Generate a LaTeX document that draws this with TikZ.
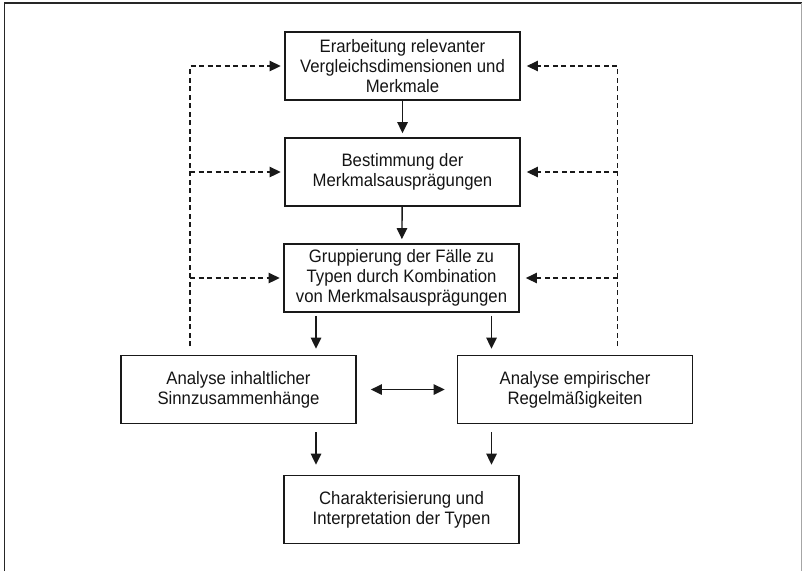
\documentclass[tikz,border=0pt]{standalone}
\usepackage{fontspec}
\setmainfont{Liberation Sans}[FakeStretch=0.93]
\usetikzlibrary{arrows.meta}
\begin{document}
\begin{tikzpicture}[x=1pt,y=-1pt,
  box/.style={draw=black!90, line width=1.8pt, minimum width=235pt, minimum height=68pt,
    align=center, inner sep=0pt, font=\fontsize{18}{20}\selectfont, text=black!92},
  tip/.style={-{Triangle[length=11pt,width=10.5pt]}},
  flow/.style={line width=1.4pt, draw=black!90, tip},
  both/.style={line width=1.4pt, draw=black!90,
    {Triangle[length=11pt,width=10.5pt]}-{Triangle[length=11pt,width=10.5pt]}},
  feedback/.style={line width=1.3pt, draw=black!90, dash pattern=on 5pt off 3.5pt, tip},
  ]
\useasboundingbox (0,0) rectangle (802,571);

% open frame
\draw[line width=1.8pt, black!85] (4.5,571) -- (4.5,3) -- (802,3);
\draw[line width=0.6pt, black!35] (801,3) -- (801,571);

% process steps
\node[box] (b1) at (402.5,66) {Erarbeitung relevanter\\Vergleichsdimensionen und\\Merkmale};
\node[box] (b2) at (402.5,172) {Bestimmung der\\Merkmalsausprägungen};
\node[box] (b3) at (401.5,278) {Gruppierung der Fälle zu\\Typen durch Kombination\\von Merkmalsausprägungen};
\node[box] (b4) at (238.5,389.5) {Analyse inhaltlicher\\Sinnzusammenhänge};
\node[box] (b5) at (575,389.5) {Analyse empirischer\\Regelmäßigkeiten};
\node[box] (b6) at (401.5,509.5) {Charakterisierung und\\Interpretation der Typen};

% columns of the split arrows and the feedback lines
\coordinate (xl) at (316,0);
\coordinate (xr) at (491.5,0);
\coordinate (lb) at (190,346);
\coordinate (rb) at (617.5,346);

% main flow
\draw[flow, shorten >=4pt] (b1) -- (b2);
\draw[flow, shorten >=4pt] (b2) -- (b3);
\draw[flow, shorten <=3pt, shorten >=6pt] (b3.south -| xl) -- (b4.north -| xl);
\draw[flow, shorten <=3pt, shorten >=6pt] (b3.south -| xr) -- (b5.north -| xr);
\draw[flow, shorten <=8pt, shorten >=10pt] (b4.south -| xl) -- (b6.north -| xl);
\draw[flow, shorten <=8pt, shorten >=10pt] (b5.south -| xr) -- (b6.north -| xr);
\draw[both, shorten <=14pt, shorten >=12pt] (b4.east) -- (b5.west);

% feedback loops
\draw[feedback, shorten >=3.5pt] (lb) |- (b1.west);
\draw[feedback, shorten >=3.5pt] (b2.west -| lb) -- (b2.west);
\draw[feedback, shorten >=3.5pt] (b3.west -| lb) -- (b3.west);
\draw[feedback, shorten >=6pt] (rb) |- (b1.east);
\draw[feedback, shorten >=6pt] (b2.east -| rb) -- (b2.east);
\draw[feedback, shorten >=6pt] (b3.east -| rb) -- (b3.east);
\end{tikzpicture}
\end{document}
